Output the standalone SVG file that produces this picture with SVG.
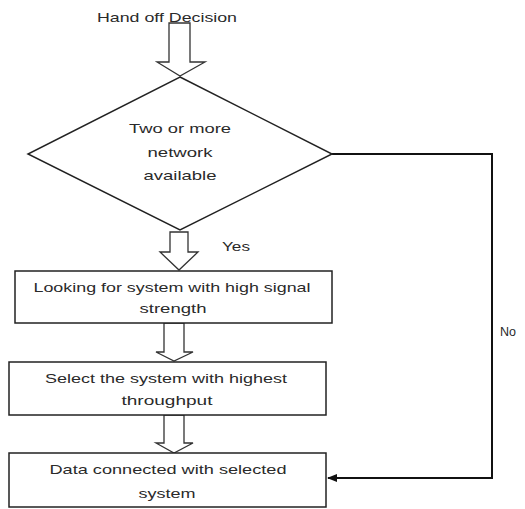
<svg xmlns="http://www.w3.org/2000/svg" width="525" height="509" viewBox="0 0 525 509">
<defs>
<style>
.t{font-family:"Liberation Sans","DejaVu Sans",sans-serif;font-size:13.5px;fill:#2a2a2a;text-anchor:middle}
.s{fill:#fff;stroke:#222;stroke-width:1.5}
.b{fill:#fff;stroke:#333;stroke-width:1.3}
.c{fill:none;stroke:#111;stroke-width:2}
</style>
<marker id="ah" markerWidth="10" markerHeight="8" refX="9" refY="4" orient="auto" markerUnits="userSpaceOnUse">
<path d="M0,0 L10,4 L0,8 z" fill="#111"/>
</marker>
</defs>
<rect width="525" height="509" fill="#fff"/>
<g id="start">
<text class="t" x="167" y="22" textLength="140" lengthAdjust="spacingAndGlyphs">Hand off Decision</text>
</g>
<g id="connectors">
<path class="b" d="M169,23 H190 V62 H205 L180,76 L157,62 H169 Z"/>
<path class="b" d="M170,232 H188 V252 H198 L179,270 L160,252 H170 Z"/>
<path class="b" d="M164,323 H184 V352 H193 L174,361 L156,352 H164 Z"/>
<path class="b" d="M164,415 H184 V443 H193 L174,453 L156,443 H164 Z"/>
<path class="c" d="M332,154 H492 V478 H328" marker-end="url(#ah)"/>
<text class="t" x="236" y="251" textLength="28" lengthAdjust="spacingAndGlyphs">Yes</text>
<text class="t" x="508" y="336" textLength="16" lengthAdjust="spacingAndGlyphs">No</text>
</g>
<g id="decision">
<path class="s" d="M180,77 L332,154 L180,230 L28,154 Z"/>
<text class="t" x="180" y="133" textLength="102" lengthAdjust="spacingAndGlyphs">Two or more</text>
<text class="t" x="180" y="157" textLength="65" lengthAdjust="spacingAndGlyphs">network</text>
<text class="t" x="180" y="180" textLength="73" lengthAdjust="spacingAndGlyphs">available</text>
</g>
<g id="box1">
<rect class="s" x="15" y="271" width="317" height="52"/>
<text class="t" x="172" y="292" textLength="277" lengthAdjust="spacingAndGlyphs">Looking for system with high signal</text>
<text class="t" x="173" y="313" textLength="67" lengthAdjust="spacingAndGlyphs">strength</text>
</g>
<g id="box2">
<rect class="s" x="9" y="362" width="317" height="53"/>
<text class="t" x="166" y="383" textLength="242" lengthAdjust="spacingAndGlyphs">Select the system with highest</text>
<text class="t" x="167" y="405" textLength="91" lengthAdjust="spacingAndGlyphs">throughput</text>
</g>
<g id="box3">
<rect class="s" x="9" y="453" width="317" height="54"/>
<text class="t" x="168" y="474" textLength="237" lengthAdjust="spacingAndGlyphs">Data connected with selected</text>
<text class="t" x="167" y="498" textLength="57" lengthAdjust="spacingAndGlyphs">system</text>
</g>
</svg>
